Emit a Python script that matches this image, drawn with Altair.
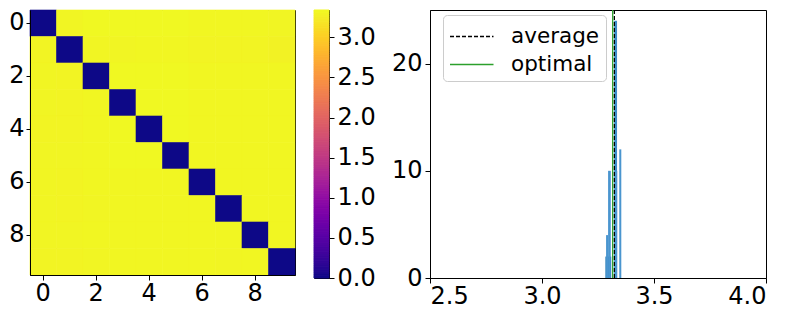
import altair as alt
import numpy as np
import pandas as pd

# ---- heatmap data (10x10 distance-like matrix) ----
row0 = [0.00, 3.31, 3.33, 3.33, 3.33, 3.33, 3.32, 3.32, 3.32, 3.31]
row1 = [3.30, 0.00, 3.31, 3.31, 3.32, 3.32, 3.30, 3.30, 3.30, 3.29]
row2 = [3.31, 3.30, 0.00, 3.33, 3.33, 3.33, 3.32, 3.32, 3.32, 3.32]
row3 = [3.31, 3.30, 3.32, 0.00, 3.33, 3.33, 3.32, 3.32, 3.32, 3.32]
row4 = [3.30, 3.30, 3.32, 3.33, 0.00, 3.33, 3.32, 3.32, 3.32, 3.32]
row5 = [3.31, 3.31, 3.32, 3.33, 3.33, 0.00, 3.32, 3.32, 3.32, 3.32]
row6 = [3.31, 3.30, 3.32, 3.32, 3.32, 3.32, 0.00, 3.32, 3.32, 3.32]
row7 = [3.31, 3.30, 3.31, 3.32, 3.32, 3.32, 3.32, 0.00, 3.32, 3.32]
row8 = [3.31, 3.31, 3.32, 3.32, 3.32, 3.32, 3.32, 3.32, 0.00, 3.32]
row9 = [3.30, 3.30, 3.31, 3.32, 3.32, 3.32, 3.32, 3.31, 3.32, 0.00]
rows = [row0, row1, row2, row3, row4, row5, row6, row7, row8, row9]
cmax = 3.34
cbar_ticks = [0.0, 0.5, 1.0, 1.5, 2.0, 2.5, 3.0]

# ---- histogram data ----
bin_left = [3.283, 3.286, 3.295, 3.322, 3.325, 3.345]
bin_right = [3.309, 3.295, 3.307, 3.335, 3.336, 3.354]
counts = [2, 4, 10, 24, 10, 12]
bar_colors = ["#1f77b4", "#4a95cf", "#4a95cf", "#3d8bc8", "#4a95cf", "#4a95cf"]
average_value = 3.323
optimal_value = 3.3156
hist_xticks = [2.5, 3.0, 3.5, 4.0]
hist_yticks = [0, 10, 20]

FONT = "DejaVu Sans"
FS = 24

heat_df = pd.DataFrame(
    [{"row": i, "col": j, "value": v} for i, r in enumerate(rows) for j, v in enumerate(r)]
)

color_scale = alt.Scale(scheme="plasma", domain=[0, cmax])

heat = alt.Chart(heat_df).mark_rect(strokeWidth=0.6).encode(
    x=alt.X("col:O", title=None,
            scale=alt.Scale(paddingInner=0, paddingOuter=0),
            axis=alt.Axis(values=[0, 2, 4, 6, 8], labelAngle=0, labelPadding=1)),
    y=alt.Y("row:O", title=None,
            scale=alt.Scale(paddingInner=0, paddingOuter=0),
            axis=alt.Axis(values=[0, 2, 4, 6, 8], labelPadding=2, tickSize=4)),
    color=alt.Color("value:Q", scale=color_scale, legend=None),
    stroke=alt.Stroke("value:Q", scale=color_scale, legend=None),
).properties(width=265, height=265)

# colorbar as stepped rects
levels = np.linspace(0, cmax, 121)
cb_df = pd.DataFrame({"lo": levels[:-1], "hi": levels[1:], "mid": (levels[:-1] + levels[1:]) / 2})
cbar = alt.Chart(cb_df).mark_rect(strokeWidth=1).encode(
    y=alt.Y("lo:Q", title=None, scale=alt.Scale(domain=[0, cmax], nice=False),
            axis=alt.Axis(orient="right", values=cbar_ticks, format=".1f")),
    y2="hi:Q",
    color=alt.Color("mid:Q", scale=color_scale, legend=None),
    stroke=alt.Stroke("mid:Q", scale=color_scale, legend=None),
).properties(width=15, height=268)

hist_df = pd.DataFrame({"left": bin_left, "right": bin_right, "count": counts, "c": bar_colors})
bars = alt.Chart(hist_df).mark_bar().encode(
    x=alt.X("left:Q", title=None, scale=alt.Scale(domain=[2.5, 4.0], nice=False),
            axis=alt.Axis(values=hist_xticks, format=".1f", labelPadding=1)),
    x2="right:Q",
    y=alt.Y("count:Q", title=None, scale=alt.Scale(domain=[0, 25], nice=False),
            axis=alt.Axis(values=hist_yticks)),
    y2=alt.datum(0),
    fill=alt.Fill("c:N", scale=None),
)

lines_df = pd.DataFrame({"line": ["average", "optimal"], "x": [average_value, optimal_value]})
leg = alt.Legend(title=None, orient="none", legendX=13, legendY=5,
                 symbolType="M-1,0H2", symbolSize=841, symbolStrokeWidth=1.3,
                 labelFontSize=21.5, labelFont=FONT, labelColor="black", labelOffset=31,
                 rowPadding=2, fillColor="white", strokeColor="#cccccc",
                 cornerRadius=4, padding=6)
rules = alt.Chart(lines_df).mark_rule(strokeWidth=1.3).encode(
    x="x:Q",
    color=alt.Color("line:N", scale=alt.Scale(domain=["average", "optimal"], range=["black", "#2ca02c"]), legend=leg),
    strokeDash=alt.StrokeDash("line:N", scale=alt.Scale(domain=["average", "optimal"], range=[[4, 2], [1, 0]]), legend=leg),
)

hist = alt.layer(bars, rules).properties(width=336, height=268)

left = alt.hconcat(heat, cbar, spacing=17)
chart = alt.hconcat(left, hist, spacing=14).resolve_scale(
    color="independent", strokeDash="independent", stroke="independent"
).resolve_legend(color="independent", strokeDash="independent").properties(
    padding={"left": 0, "top": 0, "right": 0, "bottom": 0},
    background="white",
).configure_view(stroke="black", strokeWidth=1).configure_axis(
    labelFont=FONT, labelFontSize=FS, labelColor="black", tickColor="black",
    domainColor="black", tickSize=5, labelPadding=3, grid=False, domain=True,
)

chart.save("out.html", embed_options={"renderer": "svg", "actions": False})
